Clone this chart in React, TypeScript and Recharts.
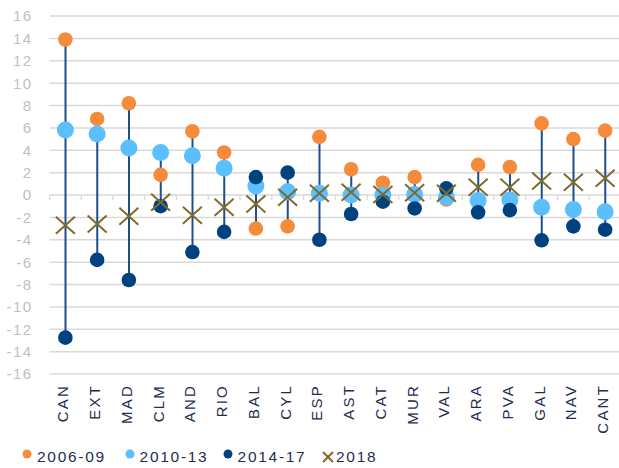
import React from 'react';
import { ComposedChart, Line, Bar, XAxis, YAxis, CartesianGrid, ReferenceLine, Legend } from 'recharts';

const regions = ['CAN', 'EXT', 'MAD', 'CLM', 'AND', 'RIO', 'BAL', 'CYL', 'ESP', 'AST', 'CAT', 'MUR', 'VAL', 'ARA', 'PVA', 'GAL', 'NAV', 'CANT'];
const p0609 = [13.9, 6.8, 8.2, 1.8, 5.7, 3.8, -3.0, -2.8, 5.2, 2.3, 1.1, 1.6, -0.4, 2.7, 2.5, 6.4, 5.0, 5.75];
const p1013 = [5.8, 5.45, 4.2, 3.8, 3.5, 2.4, 0.8, 0.3, 0.15, 0.0, 0.0, 0.05, -0.2, -0.5, -0.45, -1.1, -1.3, -1.5];
const p1417 = [-12.75, -5.8, -7.6, -1.0, -5.1, -3.3, 1.6, 2.0, -4.0, -1.7, -0.6, -1.2, 0.6, -1.55, -1.35, -4.05, -2.8, -3.1];
const y2018 = [-2.7, -2.6, -1.9, -0.65, -1.8, -1.1, -0.8, -0.2, 0.15, 0.25, 0.05, 0.2, 0.15, 0.7, 0.7, 1.25, 1.15, 1.5];
const yTicks = [-16, -14, -12, -10, -8, -6, -4, -2, 0, 2, 4, 6, 8, 10, 12, 14, 16];
const seriesNames = ['2006-09', '2010-13', '2014-17', '2018'];

const ORANGE = '#F68B3B';
const LIGHT = '#5BBFFD';
const NAVY = '#00427F';
const STEM = '#1D4F8B';
const OLIVE = '#7F6A2B';
const TEXT = '#1F2D4F';
const FONT = '"Liberation Sans", Arial, sans-serif';

const data = regions.map((name, i) => {
  const vals = [p0609[i], p1013[i], p1417[i], y2018[i]];
  return {
    name,
    a: p0609[i],
    b: p1013[i],
    c: p1417[i],
    d: y2018[i],
    range: [Math.min(...vals), Math.max(...vals)],
  };
});

const XDot = (props: any) => {
  const { cx, cy, index } = props;
  if (cx == null || cy == null) return <g key={`xd-${index}`} />;
  const w = 9.5;
  const h = 8.5;
  return (
    <g key={`xd-${index}`}>
      <line x1={cx - w} y1={cy - h} x2={cx + w} y2={cy + h} stroke={OLIVE} strokeWidth={2} />
      <line x1={cx - w} y1={cy + h} x2={cx + w} y2={cy - h} stroke={OLIVE} strokeWidth={2} />
    </g>
  );
};

const XTick = (props: any) => {
  const { x, y, payload } = props;
  const ty = y + 10;
  return (
    <text
      x={x}
      y={ty}
      transform={`rotate(-90, ${x}, ${ty})`}
      textAnchor="end"
      dy="0.2em"
      fill={TEXT}
      fontSize={15}
      fontFamily={FONT}
      style={{ letterSpacing: '2.2px' }}
    >
      {payload.value}
    </text>
  );
};

const YTick = (props: any) => {
  const { x, y, payload } = props;
  return (
    <text x={x} y={y} dy="0.36em" textAnchor="end" fill="#BFBFBF" fontSize={15} fontFamily={FONT} style={{ letterSpacing: '1.4px' }}>
      {payload.value}
    </text>
  );
};

const ZeroTicks = (props: any) => {
  const { x1, y1, x2 } = props;
  if (x1 == null) return <g />;
  const band = (x2 - x1) / regions.length;
  return (
    <g>
      {Array.from({ length: regions.length + 1 }, (_, i) => (
        <line key={i} x1={x1 + i * band} x2={x1 + i * band} y1={y1} y2={y1 + 5} stroke="#D9D9D9" strokeWidth={1.3} />
      ))}
    </g>
  );
};

const legendMarkers = [
  <svg width={10} height={10} key="m0"><circle cx={5} cy={5} r={4.5} fill={ORANGE} /></svg>,
  <svg width={10} height={10} key="m1"><circle cx={5} cy={5} r={4.5} fill={LIGHT} /></svg>,
  <svg width={10} height={10} key="m2"><circle cx={5} cy={5} r={4.5} fill={NAVY} /></svg>,
  <svg width={12} height={12} key="m3"><line x1={1} y1={1} x2={11} y2={11} stroke={OLIVE} strokeWidth={2} /><line x1={1} y1={11} x2={11} y2={1} stroke={OLIVE} strokeWidth={2} /></svg>,
];
const legendWidths = [102.6, 98, 99.4, 80];

const LegendContent = () => (
  <div style={{ display: 'flex', alignItems: 'center', height: 22, paddingLeft: 22, fontFamily: FONT, fontSize: 15.5, color: TEXT, letterSpacing: '1.7px' }}>
    {seriesNames.map((n, i) => (
      <div key={n} style={{ display: 'flex', alignItems: 'center', width: legendWidths[i] }}>
        <div style={{ marginTop: i === 3 ? 0 : -6, display: 'flex' }}>{legendMarkers[i]}</div>
        <span style={{ marginLeft: i === 3 ? 2 : 5 }}>{n}</span>
      </div>
    ))}
  </div>
);

export default function App() {
  return (
    <div style={{ position: 'fixed', left: 0, top: 0, width: 619, height: 468, overflow: 'hidden', background: '#fff' }}>
      <ComposedChart width={625} height={468} data={data} margin={{ top: 16, right: 4, bottom: 0, left: 0 }}>
        <CartesianGrid horizontal vertical={false} stroke="#D9D9D9" strokeWidth={1.5} />
        <XAxis dataKey="name" height={72} axisLine={false} tickLine={false} tickSize={0} tickMargin={0} interval={0} tick={<XTick />} />
        <YAxis width={49.5} domain={[-16, 16]} ticks={yTicks} axisLine={false} tickLine={false} tickSize={0} tickMargin={17} interval={0} tick={<YTick />} />
        <ReferenceLine y={0} shape={<ZeroTicks />} />
        <Bar dataKey="range" barSize={2} fill={STEM} isAnimationActive={false} legendType="none" />
        <Line dataKey="a" name={seriesNames[0]} stroke="none" dot={{ r: 7.3, fill: ORANGE, stroke: 'none', strokeWidth: 0 }} activeDot={false} isAnimationActive={false} />
        <Line dataKey="b" name={seriesNames[1]} stroke="none" dot={{ r: 8.5, fill: LIGHT, stroke: 'none', strokeWidth: 0 }} activeDot={false} isAnimationActive={false} />
        <Line dataKey="c" name={seriesNames[2]} stroke="none" dot={{ r: 7.3, fill: NAVY, stroke: 'none', strokeWidth: 0 }} activeDot={false} isAnimationActive={false} />
        <Line dataKey="d" name={seriesNames[3]} stroke="none" dot={<XDot />} activeDot={false} isAnimationActive={false} />
        <Legend verticalAlign="bottom" height={22} content={<LegendContent />} wrapperStyle={{ left: 0, width: 619 }} />
      </ComposedChart>
    </div>
  );
}
